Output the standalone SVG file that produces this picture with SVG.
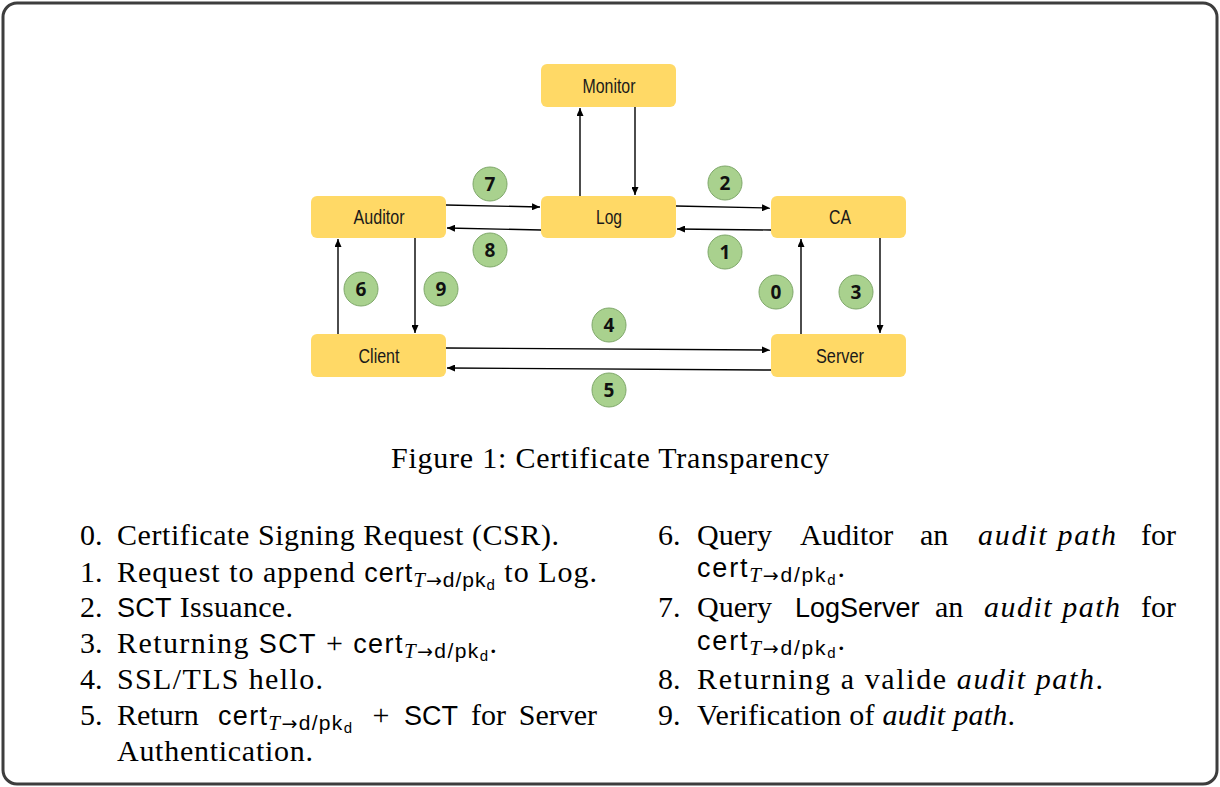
<svg xmlns="http://www.w3.org/2000/svg" width="1220" height="787" viewBox="0 0 1220 787">
<defs>
<marker id="ah" markerUnits="userSpaceOnUse" markerWidth="9" markerHeight="7" refX="8" refY="3.5" orient="auto">
<path d="M0,0 L8,3.5 L0,7 z" fill="#000"/>
</marker>
<style>
.node rect{fill:#FFD966;}
.node text{font-family:"Liberation Sans",Arial,sans-serif;font-size:20px;fill:#1a1a1a;text-anchor:middle;}
.badge circle{fill:#A9D18E;stroke:#7FA86A;stroke-width:1;}
.badge text{font-family:"Open Sans","Liberation Sans",sans-serif;font-weight:bold;font-size:19px;fill:#111;text-anchor:middle;}
.conn path{stroke:#000;stroke-width:1.4;fill:none;marker-end:url(#ah);}
.rm{font-family:"Liberation Serif","Times New Roman",serif;font-size:30px;fill:#000;}
.sf{font-family:"Liberation Sans",Arial,sans-serif;font-size:27px;}
.it{font-style:italic;}
.sub{font-size:21px;}
.mi{font-family:"Liberation Serif",serif;font-style:italic;}
.ar{font-family:"DejaVu Sans",sans-serif;font-size:19px;}
.sfs{font-family:"Liberation Sans",Arial,sans-serif;}
.ssub{font-family:"Liberation Sans",Arial,sans-serif;font-size:15px;}
</style>
</defs>
<rect x="3" y="3" width="1214" height="781" rx="14" ry="14" fill="#fff" stroke="#3d3d3d" stroke-width="3"/>

<g id="monitor" class="node"><rect x="541" y="64" width="135" height="43" rx="6"/><text x="609" y="93" textLength="53" lengthAdjust="spacingAndGlyphs">Monitor</text></g>
<g id="auditor" class="node"><rect x="311" y="196" width="135" height="42" rx="6"/><text x="379" y="224" textLength="51" lengthAdjust="spacingAndGlyphs">Auditor</text></g>
<g id="log" class="node"><rect x="541" y="196" width="135" height="42" rx="6"/><text x="609" y="224" textLength="26" lengthAdjust="spacingAndGlyphs">Log</text></g>
<g id="ca" class="node"><rect x="771" y="196" width="135" height="42" rx="6"/><text x="840" y="224" textLength="22" lengthAdjust="spacingAndGlyphs">CA</text></g>
<g id="client" class="node"><rect x="311" y="334" width="135" height="43" rx="6"/><text x="379" y="363" textLength="41" lengthAdjust="spacingAndGlyphs">Client</text></g>
<g id="server" class="node"><rect x="771" y="334" width="135" height="43" rx="6"/><text x="840" y="363" textLength="48" lengthAdjust="spacingAndGlyphs">Server</text></g>

<g id="connectors" class="conn">
<path d="M580,196 V108"/>
<path d="M635,107 V195"/>
<path d="M446,205 L540,207"/>
<path d="M541,230 L447,228"/>
<path d="M676,206 L770,208"/>
<path d="M771,230 L677,229"/>
<path d="M338,334 V239"/>
<path d="M415,238 V333"/>
<path d="M801,334 V239"/>
<path d="M880,238 V333"/>
<path d="M446,348 L770,350"/>
<path d="M771,370 L447,368"/>
</g>

<g id="badge-7" class="badge"><circle cx="490" cy="184" r="17"/><text x="490" y="191">7</text></g>
<g id="badge-2" class="badge"><circle cx="725" cy="183" r="17"/><text x="725" y="190">2</text></g>
<g id="badge-8" class="badge"><circle cx="490" cy="250" r="17"/><text x="490" y="257">8</text></g>
<g id="badge-1" class="badge"><circle cx="725" cy="252" r="17"/><text x="725" y="259">1</text></g>
<g id="badge-6" class="badge"><circle cx="361" cy="289" r="17"/><text x="361" y="296">6</text></g>
<g id="badge-9" class="badge"><circle cx="441" cy="289" r="17"/><text x="441" y="296">9</text></g>
<g id="badge-0" class="badge"><circle cx="776" cy="292" r="17"/><text x="776" y="299">0</text></g>
<g id="badge-3" class="badge"><circle cx="856" cy="292" r="17"/><text x="856" y="299">3</text></g>
<g id="badge-4" class="badge"><circle cx="609" cy="325" r="17"/><text x="609" y="332">4</text></g>
<g id="badge-5" class="badge"><circle cx="609" cy="390" r="17"/><text x="609" y="397">5</text></g>

<text class="rm" x="391" y="468" textLength="438">Figure 1: Certificate Transparency</text>

<g id="list-left">
<text class="rm" x="80" y="545">0.</text>
<text class="rm" x="117" y="545" textLength="442">Certificate Signing Request (CSR).</text>
<text class="rm" x="80" y="582">1.</text>
<text class="rm" x="117" y="582" textLength="480">Request to append <tspan class="sf">cert</tspan><tspan class="sub" dy="5"><tspan class="mi">T</tspan><tspan class="ar">→</tspan><tspan class="sfs">d/pk</tspan><tspan class="ssub" dy="3">d</tspan></tspan><tspan dy="-8"> to Log.</tspan></text>
<text class="rm" x="80" y="617">2.</text>
<text class="rm" x="117" y="617" textLength="176"><tspan class="sf">SCT</tspan> Issuance.</text>
<text class="rm" x="80" y="653">3.</text>
<text class="rm" x="117" y="653" textLength="380">Returning <tspan class="sf">SCT</tspan> + <tspan class="sf">cert</tspan><tspan class="sub" dy="5"><tspan class="mi">T</tspan><tspan class="ar">→</tspan><tspan class="sfs">d/pk</tspan><tspan class="ssub" dy="3">d</tspan></tspan><tspan dy="-8">.</tspan></text>
<text class="rm" x="80" y="689">4.</text>
<text class="rm" x="117" y="689" textLength="206">SSL/TLS hello.</text>
<text class="rm" x="80" y="725">5.</text>
<text class="rm" x="117" y="725">Return</text>
<text class="rm" x="218" y="725" textLength="134"><tspan class="sf">cert</tspan><tspan class="sub" dy="5"><tspan class="mi">T</tspan><tspan class="ar">→</tspan><tspan class="sfs">d/pk</tspan><tspan class="ssub" dy="3">d</tspan></tspan></text>
<text class="rm" x="381" y="725" text-anchor="middle">+</text>
<text class="rm sf" x="404" y="725">SCT</text>
<text class="rm" x="471" y="725">for</text>
<text class="rm" x="597" y="725" text-anchor="end">Server</text>
<text class="rm" x="117" y="761" textLength="196">Authentication.</text>
</g>

<g id="list-right">
<text class="rm" x="658" y="545">6.</text>
<text class="rm" x="697" y="545">Query</text>
<text class="rm" x="800" y="545">Auditor</text>
<text class="rm" x="920" y="545">an</text>
<text class="rm it" x="978" y="545" textLength="138">audit path</text>
<text class="rm" x="1176" y="545" text-anchor="end">for</text>
<text class="rm" x="697" y="577" textLength="148"><tspan class="sf">cert</tspan><tspan class="sub" dy="5"><tspan class="mi">T</tspan><tspan class="ar">→</tspan><tspan class="sfs">d/pk</tspan><tspan class="ssub" dy="3">d</tspan></tspan><tspan dy="-8">.</tspan></text>
<text class="rm" x="658" y="617">7.</text>
<text class="rm" x="697" y="617">Query</text>
<text class="rm sf" x="795" y="617">LogServer</text>
<text class="rm" x="935" y="617">an</text>
<text class="rm it" x="984" y="617" textLength="136">audit path</text>
<text class="rm" x="1176" y="617" text-anchor="end">for</text>
<text class="rm" x="697" y="650" textLength="148"><tspan class="sf">cert</tspan><tspan class="sub" dy="5"><tspan class="mi">T</tspan><tspan class="ar">→</tspan><tspan class="sfs">d/pk</tspan><tspan class="ssub" dy="3">d</tspan></tspan><tspan dy="-8">.</tspan></text>
<text class="rm" x="658" y="689">8.</text>
<text class="rm" x="697" y="689" textLength="406">Returning a valide <tspan class="it">audit path</tspan>.</text>
<text class="rm" x="658" y="725">9.</text>
<text class="rm" x="697" y="725" textLength="318">Verification of <tspan class="it">audit path</tspan>.</text>
</g>
</svg>
